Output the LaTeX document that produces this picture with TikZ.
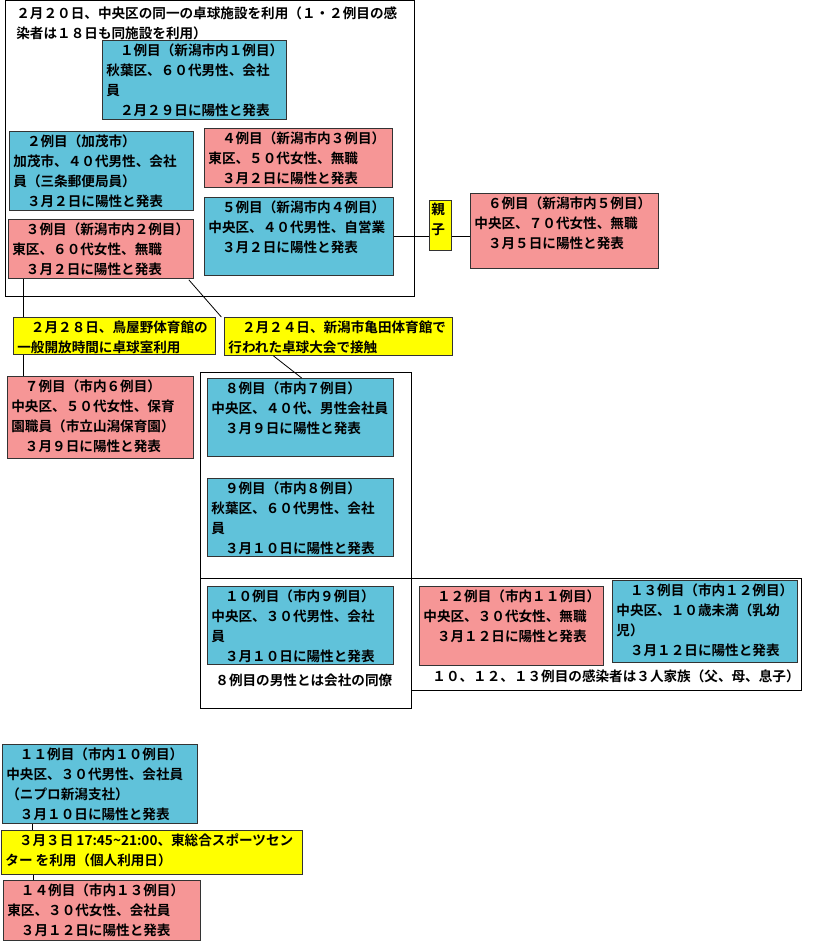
\documentclass[tikz,border=0pt]{standalone}
\usepackage{fontspec}
\setmainfont{Noto Sans CJK JP}[BoldFont={Noto Sans CJK JP Bold}]
\usetikzlibrary{positioning}
\definecolor{caseblue}{RGB}{96,194,218}
\definecolor{casepink}{RGB}{246,150,150}
\definecolor{noteyellow}{RGB}{255,255,0}
\newlength{\pxu}
\setlength{\pxu}{0.75pt}
\newcommand{\cbox}[3]{\parbox[c][\dimexpr#2\pxu-6\pxu\relax][t]{\dimexpr#1\pxu-8\pxu\relax}{\raggedright #3}}
\tikzset{
  bluecase/.style={draw=black!80,fill=caseblue,anchor=north west,inner xsep=4\pxu,inner ysep=3\pxu},
  pinkcase/.style={draw=black!80,fill=casepink,anchor=north west,inner xsep=4\pxu,inner ysep=3\pxu},
  yellownote/.style={draw=black!80,fill=noteyellow,anchor=north west,inner xsep=4\pxu,inner ysep=3\pxu},
  plaintext/.style={anchor=north west,inner sep=0pt}
}
\begin{document}
\begin{tikzpicture}[x=0.75pt,y=-0.75pt,font=\fontsize{10.2}{15}\selectfont\bfseries,line width=0.6pt]
\useasboundingbox (0,0) rectangle (820,942);
% outer frames
\draw (5,0) rectangle (414,296);
\draw (200,372) rectangle (411,708);
\draw (200,578) -- (411,578);
\draw (411,578) rectangle (801,690);
\node[plaintext] (title) at (16,6) {\parbox[t]{398\pxu}{\raggedright ２月２０日、中央区の同一の卓球施設を利用（１・２例目の感\\染者は１８日も同施設を利用）}};
% first group
\node[bluecase] (c1) at (102,40) {\cbox{184}{79}{　１例目（新潟市内１例目）\\秋葉区、６０代男性、会社\\員\\　２月２９日に陽性と発表}};
\node[bluecase] (c2) at (9,131) {\cbox{184}{79}{　２例目（加茂市）\\加茂市、４０代男性、会社\\員（三条郵便局員）\\　３月２日に陽性と発表}};
\node[pinkcase] (c4) at (204,128) {\cbox{188}{59}{　４例目（新潟市内３例目）\\東区、５０代女性、無職\\　３月２日に陽性と発表}};
\node[bluecase] (c5) at (204,197) {\cbox{189}{78}{　５例目（新潟市内４例目）\\中央区、４０代男性、自営業\\　３月２日に陽性と発表}};
\node[pinkcase] (c3) at (8,219) {\cbox{185}{59}{　３例目（新潟市内２例目）\\東区、６０代女性、無職\\　３月２日に陽性と発表}};
\node[yellownote,inner xsep=2\pxu] (oyako) at (429,200) {\cbox{26}{50}{親\\子}};
\node[pinkcase] (c6) at (470,193) {\cbox{188}{75}{　６例目（新潟市内５例目）\\中央区、７０代女性、無職\\　３月５日に陽性と発表}};
\draw (c5.east) -- (oyako.west |- c5.east);
\draw (oyako.east |- c5.east) -- (c6.west |- c5.east);
% contacts
\node[yellownote] (n1) at (13,317) {\cbox{202}{37}{　２月２８日、鳥屋野体育館の\\一般開放時間に卓球室利用}};
\node[yellownote] (n2) at (224,317) {\cbox{228}{38}{　２月２４日、新潟市亀田体育館で\\行われた卓球大会で接触}};
\node[pinkcase] (c7) at (7,376) {\cbox{186}{82}{　７例目（市内６例目）\\中央区、５０代女性、保育\\園職員（市立山潟保育園）\\　３月９日に陽性と発表}};
\node[bluecase] (c8) at (207,378) {\cbox{186}{78}{　８例目（市内７例目）\\中央区、４０代、男性会社員\\　３月９日に陽性と発表}};
\node[bluecase] (c9) at (207,478) {\cbox{186}{78}{　９例目（市内８例目）\\秋葉区、６０代男性、会社\\員\\　３月１０日に陽性と発表}};
\node[bluecase] (c10) at (207,586) {\cbox{186}{78}{　１０例目（市内９例目）\\中央区、３０代男性、会社\\員\\　３月１０日に陽性と発表}};
\node[pinkcase] (c12) at (419,586) {\cbox{184}{79}{　１２例目（市内１１例目）\\中央区、３０代女性、無職\\　３月１２日に陽性と発表}};
\node[bluecase] (c13) at (612,580) {\cbox{185}{82}{　１３例目（市内１２例目）\\中央区、１０歳未満（乳幼\\児）\\　３月１２日に陽性と発表}};
\node[plaintext] (coworker) at (215,674) {８例目の男性とは会社の同僚};
\node[plaintext] (family) at (432,669) {１０、１２、１３例目の感染者は３人家族（父、母、息子）};
\draw (c3.south west) ++(15,0) coordinate (p3) -- (p3 |- n1.north);
\draw (n1.south west) ++(10,0) coordinate (q1) -- (q1 |- c7.north);
\draw (c3.south east) ++(-5,1) coordinate (p3b) -- ([xshift=-2]n2.north west);
\draw ([xshift=37]n2.south west) -- ([xshift=71]c8.north west);
% bottom group
\node[bluecase] (c11) at (2,744) {\cbox{195}{79}{　１１例目（市内１０例目）\\中央区、３０代男性、会社員\\（ニプロ新潟支社）\\　３月１０日に陽性と発表}};
\node[yellownote] (n3) at (1,830) {\cbox{301}{44}{　３月３日 17:45\textasciitilde 21:00、東総合スポーツセン\\ター を利用（個人利用日）}};
\node[pinkcase] (c14) at (3,880) {\cbox{197}{60}{　１４例目（市内１３例目）\\東区、３０代女性、会社員\\　３月１２日に陽性と発表}};
\draw ([xshift=23]c11.south west) -- ([xshift=23]c11.south west |- n3.north);
\draw ([xshift=24]n3.south west) -- ([xshift=24]n3.south west |- c14.north);
\end{tikzpicture}
\end{document}
